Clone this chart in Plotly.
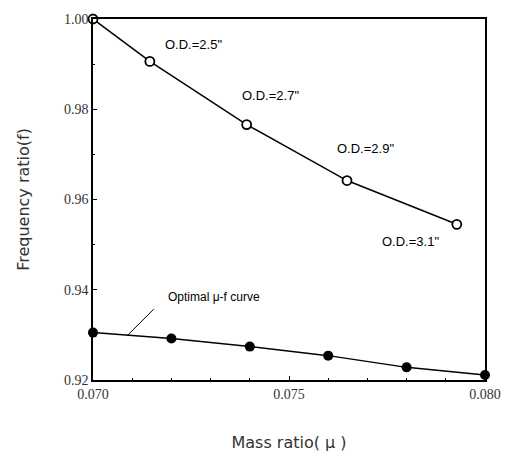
import plotly.graph_objects as go

# Data
od_mu = [0.0700, 0.07145, 0.07392, 0.07648, 0.07928]
od_f = [1.0000, 0.9906, 0.9766, 0.9642, 0.9545]
od_labels = ['O.D.=2.5"', 'O.D.=2.7"', 'O.D.=2.9"', 'O.D.=3.1"']

opt_mu = [0.070, 0.072, 0.074, 0.076, 0.078, 0.080]
opt_f = [0.9305, 0.9292, 0.9274, 0.9254, 0.9228, 0.9211]

x_ticks = [0.070, 0.075, 0.080]
x_tick_text = ["0.070", "0.075", "0.080"]
y_ticks = [0.92, 0.94, 0.96, 0.98, 1.00]
y_tick_text = ["0.92", "0.94", "0.96", "0.98", "1.00"]

fig = go.Figure()
fig.add_trace(go.Scatter(
    x=od_mu, y=od_f, mode="lines+markers", line=dict(color="black", width=1.5),
    marker=dict(symbol="circle", size=9, color="white", line=dict(color="black", width=1.8)),
    cliponaxis=False, showlegend=False))
fig.add_trace(go.Scatter(
    x=opt_mu, y=opt_f, mode="lines+markers", line=dict(color="black", width=1.5),
    marker=dict(symbol="circle", size=10, color="black"),
    cliponaxis=False, showlegend=False))

ann_font = dict(family="Liberation Sans, Arial", size=13, color="black")
label_pos = [(0.07257, 0.9943), (0.07454, 0.9830), (0.07696, 0.9714), (0.07810, 0.9506)]
for (ax_, ay_), t in zip(label_pos, od_labels):
    fig.add_annotation(x=ax_, y=ay_, text=t, showarrow=False, font=ann_font)

fig.add_annotation(x=0.07309, y=0.9385, text="Optimal \u03bc-f curve", showarrow=False,
                   font=dict(family="Liberation Sans, Arial", size=12, color="black"))
fig.add_shape(type="line", x0=0.07155, y0=0.9357, x1=0.07087, y1=0.9298,
              line=dict(color="black", width=1))

axis_common = dict(showline=True, linecolor="black", linewidth=1.5, mirror=True,
                   showgrid=False, zeroline=False, ticks="inside", ticklen=4,
                   tickcolor="black",
                   tickfont=dict(family="Liberation Serif, Times New Roman", size=14, color="#333"))

fig.update_xaxes(range=[0.070, 0.080], tickvals=x_ticks, ticktext=x_tick_text,
                 title=dict(text="Mass ratio( \u03bc )", standoff=36,
                            font=dict(family="DejaVu Sans", size=16, color="#333")),
                 minor=dict(dtick=0.001, ticks="inside", ticklen=2, tickcolor="black"),
                 **axis_common)
fig.update_yaxes(range=[0.92, 1.00], tickvals=y_ticks, ticktext=y_tick_text,
                 title=dict(text="Frequency ratio(f)", standoff=30,
                            font=dict(family="DejaVu Sans", size=16, color="#333")),
                 minor=dict(dtick=0.01, ticks="inside", ticklen=2, tickcolor="black"),
                 **axis_common)

fig.update_layout(width=513, height=461, margin=dict(l=93, r=18, t=19, b=76),
                  plot_bgcolor="white", paper_bgcolor="white")

fig.write_html("out.html")
